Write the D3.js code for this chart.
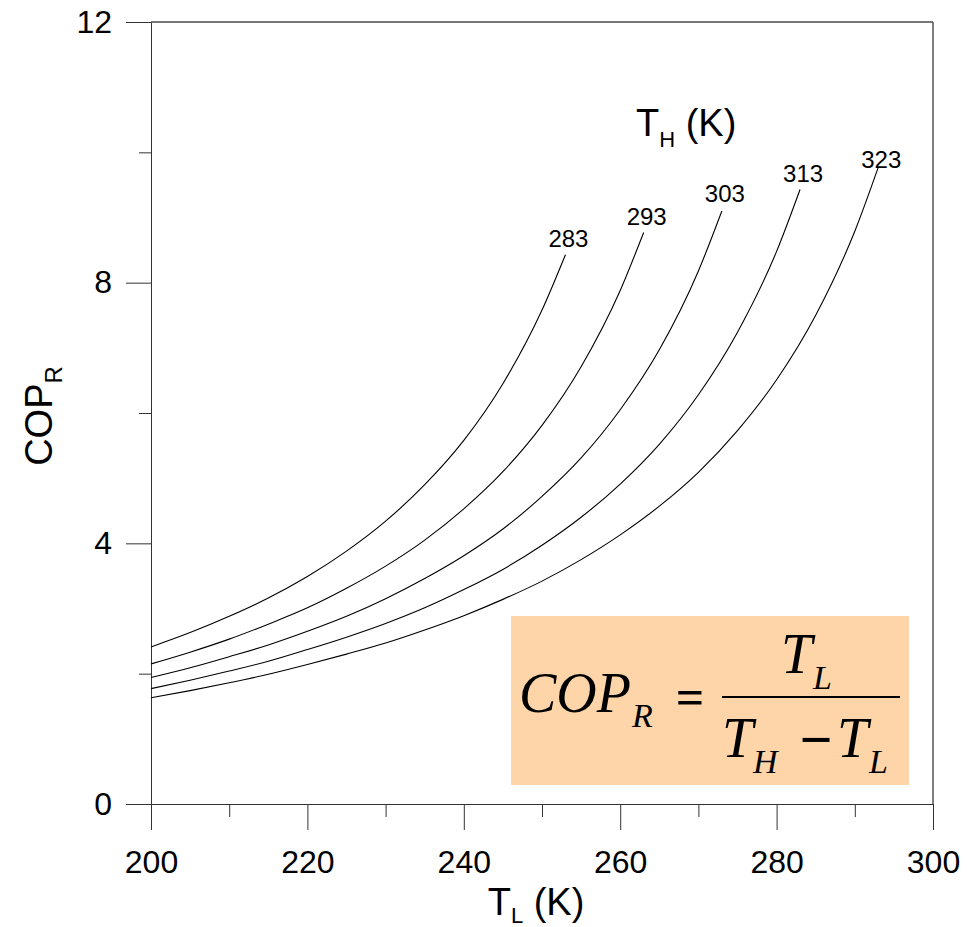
<!DOCTYPE html>
<meta charset="utf-8">
<script src="https://d3js.org/d3.v7.min.js"></script>
<style>
  body { margin: 0; background: #fff; }
</style>
<div id="chart"></div>
<script>
// T_H levels (K) and the COP_R curves
var thLevels = [283, 293, 303, 313, 323];

var tl283 = [200, 205, 210, 215, 220, 225, 230, 235, 240, 245, 250, 253];
var cop283 = [2.41, 2.63, 2.88, 3.16, 3.49, 3.88, 4.34, 4.90, 5.58, 6.45, 7.58, 8.43];

var tl293 = [200, 205, 210, 215, 220, 225, 230, 235, 240, 245, 250, 255, 260, 263];
var cop293 = [2.15, 2.33, 2.53, 2.76, 3.01, 3.31, 3.65, 4.05, 4.53, 5.10, 5.81, 6.71, 7.88, 8.77];

var tl303 = [200, 205, 210, 215, 220, 225, 230, 235, 240, 245, 250, 255, 260, 265, 270, 273];
var cop303 = [1.94, 2.09, 2.26, 2.44, 2.65, 2.88, 3.15, 3.46, 3.81, 4.22, 4.72, 5.31, 6.05, 6.97, 8.18, 9.10];

var tl313 = [200, 205, 210, 215, 220, 225, 230, 235, 240, 245, 250, 255, 260, 265, 270, 275, 280, 283];
var cop313 = [1.77, 1.90, 2.04, 2.19, 2.37, 2.56, 2.77, 3.01, 3.29, 3.60, 3.97, 4.40, 4.91, 5.52, 6.28, 7.24, 8.48, 9.43];

var tl323 = [200, 205, 210, 215, 220, 225, 230, 235, 240, 245, 250, 255, 260, 265, 270, 275, 280, 285, 290, 293];
var cop323 = [1.63, 1.74, 1.86, 1.99, 2.14, 2.30, 2.47, 2.67, 2.89, 3.14, 3.42, 3.75, 4.13, 4.57, 5.09, 5.73, 6.51, 7.50, 8.79, 9.77];

var xMajor = [200, 220, 240, 260, 280, 300];
var xMinor = [210, 230, 250, 270, 290];
var yMajor = [0, 4, 8, 12];
var yMinor = [2, 6, 10];

var curves = [
  {th: thLevels[0], tl: tl283, cop: cop283},
  {th: thLevels[1], tl: tl293, cop: cop293},
  {th: thLevels[2], tl: tl303, cop: cop303},
  {th: thLevels[3], tl: tl313, cop: cop313},
  {th: thLevels[4], tl: tl323, cop: cop323}
];
// vertical nudge of each end label
var labelDy = [-8, -7, -9, -7, 1];

var W = 967, H = 927;
var sans = "'Liberation Sans', Arial, sans-serif";
var serif = "'Liberation Serif', 'Times New Roman', serif";

var svg = d3.select("#chart").append("svg")
    .attr("width", W)
    .attr("height", H);

var x = d3.scaleLinear().domain([200, 300]).range([151, 933]);
var y = d3.scaleLinear().domain([0, 12]).range([804, 22]);

// frame top and right
svg.append("line")
    .attr("x1", x(200)).attr("x2", x(300))
    .attr("y1", y(12)).attr("y2", y(12))
    .attr("stroke", "#777").attr("stroke-width", 2);
svg.append("line")
    .attr("x1", x(300)).attr("x2", x(300))
    .attr("y1", y(12)).attr("y2", y(0))
    .attr("stroke", "#555").attr("stroke-width", 1.5);

// formula box (behind curves)
var fx = svg.append("g");
fx.append("rect")
    .attr("x", 511).attr("y", 616)
    .attr("width", 398).attr("height", 169)
    .attr("fill", "#fdd5a8");

// X axis
var xAx = svg.append("g")
    .attr("transform", "translate(0," + y(0) + ")")
    .style("color", "#333")
    .call(d3.axisBottom(x).tickValues(xMajor).tickSize(26).tickSizeOuter(0)
      .tickPadding(20).tickFormat(d3.format("d")));
xAx.selectAll("text").style("font-family", sans).style("font-size", "32px").attr("fill", "#000");
svg.append("g")
    .attr("transform", "translate(0," + y(0) + ")")
    .style("color", "#333")
    .call(d3.axisBottom(x).tickValues(xMinor).tickSize(13).tickFormat(""))
    .select(".domain").remove();

// Y axis
var yAx = svg.append("g")
    .attr("transform", "translate(" + x(200) + ",0)")
    .style("color", "#333")
    .call(d3.axisLeft(y).tickValues(yMajor).tickSize(25).tickSizeOuter(0)
      .tickPadding(14).tickFormat(d3.format("d")));
yAx.selectAll("text").style("font-family", sans).style("font-size", "32px").attr("fill", "#000");
svg.append("g")
    .attr("transform", "translate(" + x(200) + ",0)")
    .style("color", "#333")
    .call(d3.axisLeft(y).tickValues(yMinor).tickSize(12).tickFormat(""))
    .select(".domain").remove();

// axis titles
var xt = svg.append("text")
    .attr("x", 536).attr("y", 915)
    .attr("text-anchor", "middle")
    .style("font-family", sans).style("font-size", "38px");
xt.append("tspan").text("T");
xt.append("tspan").attr("dy", 8).style("font-size", "22px").text("L");
xt.append("tspan").attr("dy", -8).text(" (K)");

var yt = svg.append("text")
    .attr("transform", "translate(52,416) rotate(-90)")
    .attr("text-anchor", "middle")
    .style("font-family", sans).style("font-size", "38px");
yt.append("tspan").text("COP");
yt.append("tspan").attr("dy", 10).style("font-size", "24px").text("R");

// curves
var line = d3.line()
    .x(function(d) { return x(d[0]); })
    .y(function(d) { return y(d[1]); })
    .curve(d3.curveMonotoneX);

svg.selectAll(".curve")
  .data(curves)
  .enter().append("path")
    .attr("class", "curve")
    .attr("fill", "none")
    .attr("stroke", "#000")
    .attr("stroke-width", 1.1)
    .attr("d", function(c) { return line(d3.zip(c.tl, c.cop)); });

svg.selectAll(".clabel")
  .data(curves)
  .enter().append("text")
    .attr("class", "clabel")
    .attr("x", function(c) { return x(c.tl[c.tl.length - 1]) + 3; })
    .attr("y", function(c, i) { return y(c.cop[c.cop.length - 1]) + labelDy[i]; })
    .attr("text-anchor", "middle")
    .style("font-family", sans).style("font-size", "24px")
    .text(function(c) { return c.th; });

var th = svg.append("text")
    .attr("x", 636).attr("y", 136)
    .style("font-family", sans).style("font-size", "38px");
th.append("tspan").text("T");
th.append("tspan").attr("dy", 11).style("font-size", "22px").text("H");
th.append("tspan").attr("dy", -11).text(" (K)");

// formula
function ft(tx, ty, s, size, italic, bold, anchor) {
  fx.append("text")
    .attr("x", tx).attr("y", ty)
    .attr("text-anchor", anchor || "start")
    .style("font-family", serif)
    .style("font-size", size + "px")
    .style("font-style", italic ? "italic" : "normal")
    .style("font-weight", bold ? "bold" : "normal")
    .text(s);
}
ft(519, 712, "COP", 56, true);
ft(632, 727, "R", 34, true);
ft(690, 714, "=", 50, false, true, "middle");
fx.append("line")
    .attr("x1", 722).attr("x2", 900)
    .attr("y1", 697).attr("y2", 697)
    .attr("stroke", "#000").attr("stroke-width", 2);
ft(781, 673, "T", 56, true);
ft(813, 689, "L", 34, true);
ft(722, 757, "T", 56, true);
ft(753, 773, "H", 34, true);
ft(816, 759, "\u2212", 58, false, true, "middle");
ft(837, 757, "T", 56, true);
ft(869, 773, "L", 34, true);
</script>
